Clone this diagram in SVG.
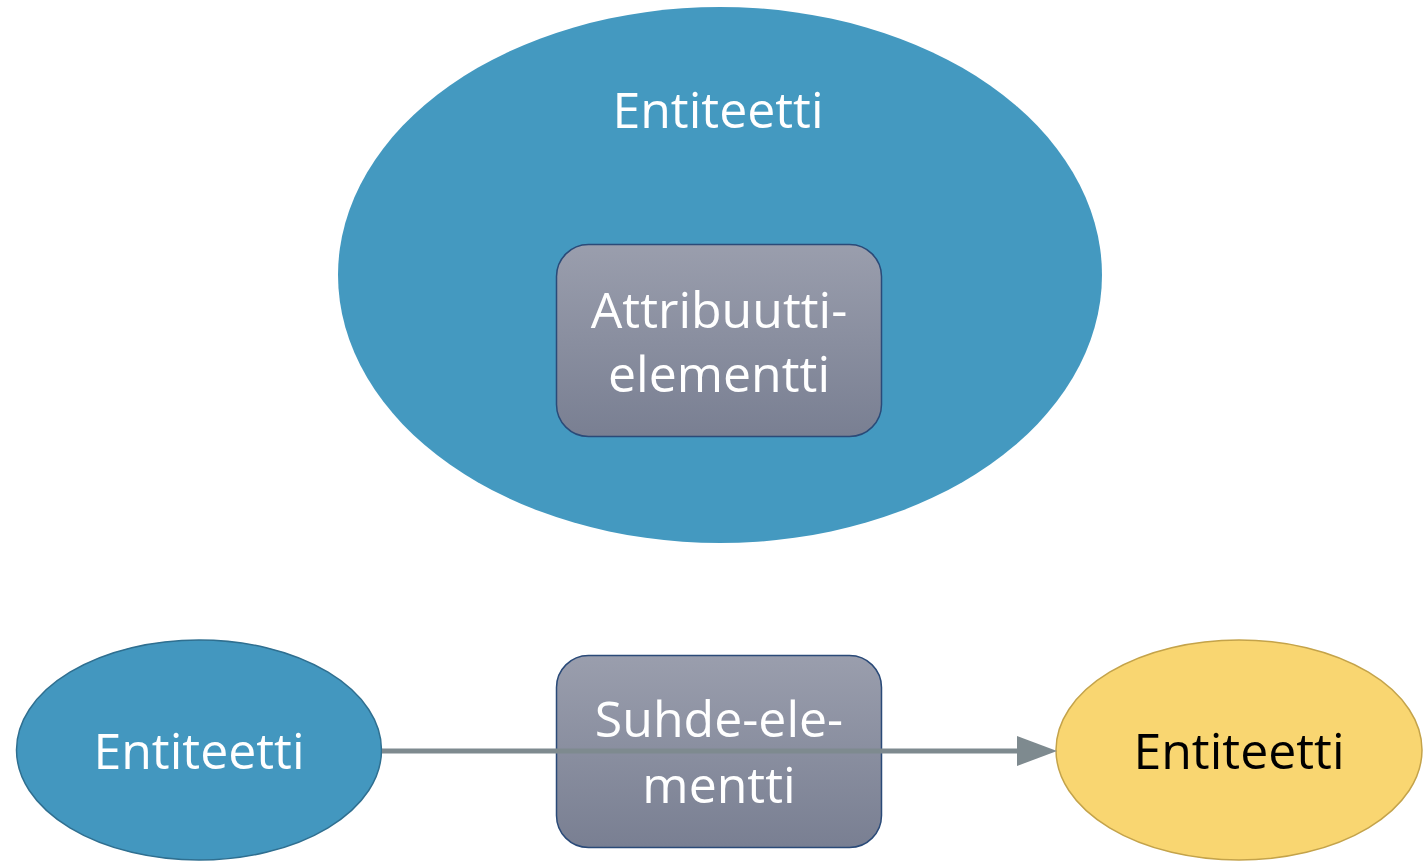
<svg xmlns="http://www.w3.org/2000/svg" width="1424" height="862" viewBox="0 0 1424 862">
<style>
.t{font-family:"Open Sans","Noto Sans","DejaVu Sans",sans-serif;font-size:50px;text-anchor:middle}
.w{fill:#ffffff}
.k{fill:#000000}
.box{fill:url(#g);stroke:#2a4a78;stroke-width:1.5}
</style>
<defs>
<linearGradient id="g" x1="0" y1="0" x2="0" y2="1">
<stop offset="0" stop-color="#9a9ead"/>
<stop offset="1" stop-color="#797f92"/>
</linearGradient>
<marker id="ah" markerWidth="8" markerHeight="6" refX="0" refY="3" orient="auto" markerUnits="strokeWidth" viewBox="0 0 8 6">
<path d="M0,0 L8,3 L0,6 Z" fill="#7e8a8f"/>
</marker>
</defs>
<rect width="1424" height="862" fill="#ffffff"/>
<g id="entity-top">
<ellipse cx="720" cy="275" rx="382" ry="268" fill="#4499c0"/>
<text class="t w" x="718" y="128">Entiteetti</text>
</g>
<g id="attribute">
<rect class="box" x="556.5" y="244.5" width="325" height="192" rx="32"/>
<text class="t w" x="719" y="328">Attribuutti-</text>
<text class="t w" x="719" y="392">elementti</text>
</g>
<g id="relation">
<rect class="box" x="556.5" y="655.5" width="325" height="192" rx="32"/>
<text class="t w" x="719" y="737">Suhde-ele-</text>
<text class="t w" x="719" y="803">mentti</text>
</g>
<g id="entity-left">
<ellipse cx="199" cy="750" rx="182.5" ry="110" fill="#4397bf" stroke="#2f6f90" stroke-width="1.5"/>
<text class="t w" x="199" y="769">Entiteetti</text>
</g>
<g id="entity-right">
<ellipse cx="1239" cy="750" rx="183" ry="110" fill="#f9d671" stroke="#c4a34a" stroke-width="1.5"/>
<text class="t k" x="1239" y="769">Entiteetti</text>
</g>
<g id="connectors">
<line x1="382" y1="751" x2="1017" y2="751" stroke="#7e8a8f" stroke-width="5" marker-end="url(#ah)"/>
</g>
</svg>
